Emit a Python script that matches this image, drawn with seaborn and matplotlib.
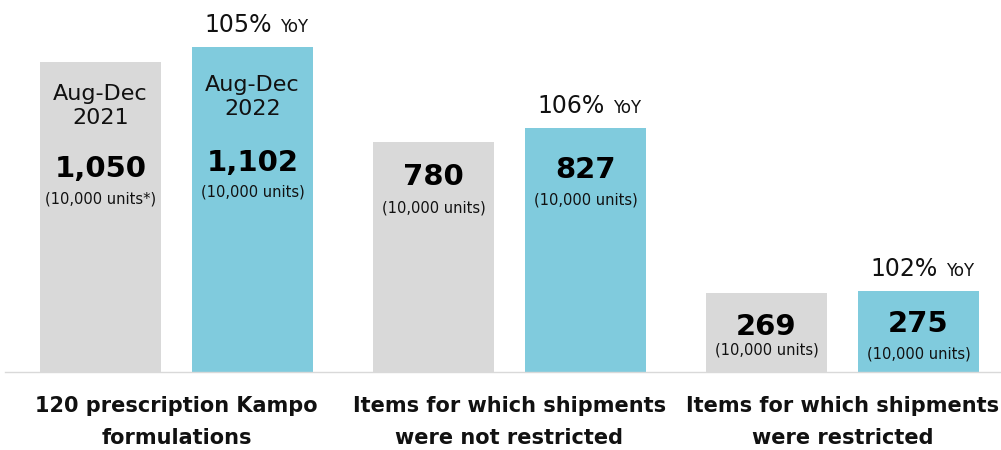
import pandas as pd
import seaborn as sns
from matplotlib import pyplot as plt

# data
categories = ["120 prescription Kampo\nformulations",
              "Items for which shipments\nwere not restricted",
              "Items for which shipments\nwere restricted"]
periods = ["Aug-Dec\n2021", "Aug-Dec\n2022"]
units_2021 = [1050, 780, 269]
units_2022 = [1102, 827, 275]
yoy = ["105%", "106%", "102%"]
unit_notes = ["(10,000 units*)", "(10,000 units)", "(10,000 units)",
              "(10,000 units)", "(10,000 units)", "(10,000 units)"]

df = pd.DataFrame({
    "category": categories * 2,
    "period": [periods[0]] * 3 + [periods[1]] * 3,
    "units": units_2021 + units_2022,
})

gray = "#d9d9d9"
blue = "#80cbdd"
ink = "#111111"

sns.set_style("white")
plt.rcParams["font.family"] = ["DejaVu Sans"]

fig = plt.figure(figsize=(10.01, 4.5), dpi=100)
ax = fig.add_axes([0.005, 78 / 450, 0.995, 372 / 450])

sns.barplot(data=df, x="category", y="units", hue="period",
            palette=[gray, blue], saturation=1, width=0.913, gap=0.21,
            linewidth=0, legend=False, ax=ax)

ax.set_xlim(-0.515, 2.476)
ax.set_ylim(0, 1260)
ax.set_xlabel("")
ax.set_ylabel("")
ax.set_yticks([])
for s in ["top", "left", "right"]:
    ax.spines[s].set_visible(False)
ax.spines["bottom"].set_color(gray)
ax.spines["bottom"].set_linewidth(1)
ax.tick_params(axis="x", length=0, pad=17, colors=ink)
for lbl in ax.get_xticklabels():
    lbl.set_fontweight("bold")
    lbl.set_fontsize(15)
    lbl.set_linespacing(1.8)

# bars in order: gray/blue per group
bars = sorted(ax.patches, key=lambda p: p.get_x())
values = [units_2021[0], units_2022[0], units_2021[1], units_2022[1],
          units_2021[2], units_2022[2]]

# pixel offsets below the bar top for the value and the note
value_off = [107, 116, 35, 42, 34, 33]
note_off = [137, 145, 66, 72, 57, 63]

for i, (bar, v) in enumerate(zip(bars, values)):
    cx = bar.get_x() + bar.get_width() / 2
    top = bar.get_height()
    ax.annotate(f"{v:,}", (cx, top), xytext=(0, -value_off[i]),
                textcoords="offset pixels", ha="center", va="center",
                fontsize=21, fontweight="bold", color="black")
    ax.annotate(unit_notes[i], (cx, top), xytext=(0, -note_off[i]),
                textcoords="offset pixels", ha="center", va="center",
                fontsize=10.5, color=ink)

# period labels in the first pair
for bar, per, off in zip(bars[:2], periods, [44, 50]):
    cx = bar.get_x() + bar.get_width() / 2
    ax.annotate(per, (cx, bar.get_height()), xytext=(0, -off),
                textcoords="offset pixels", ha="center", va="center",
                fontsize=16, color=ink, linespacing=1.25)

# YoY above the blue bars
for bar, pct in zip(bars[1::2], yoy):
    cx = bar.get_x() + bar.get_width() / 2
    top = bar.get_height()
    ax.annotate(pct, (cx, top), xytext=(19, 15), textcoords="offset pixels",
                ha="right", va="baseline", fontsize=17, color=ink,
                annotation_clip=False)
    ax.annotate("YoY", (cx, top), xytext=(28, 15), textcoords="offset pixels",
                ha="left", va="baseline", fontsize=12, color=ink,
                annotation_clip=False)

fig.savefig("out.png", dpi=100)
